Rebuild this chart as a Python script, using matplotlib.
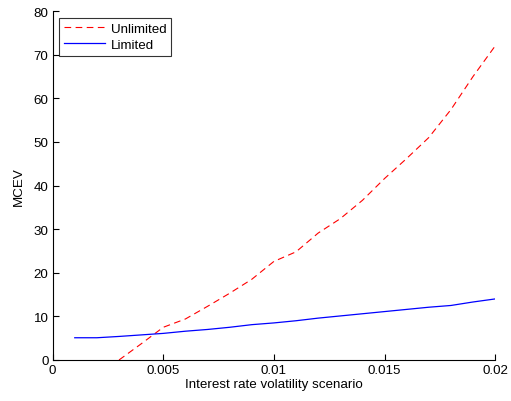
import numpy as np
import matplotlib.pyplot as plt

plt.rcParams['font.family'] = ['Liberation Sans', 'DejaVu Sans']

# 변동성 시나리오 (x)
x_lim = [0.001, 0.002, 0.003, 0.004, 0.005, 0.006, 0.007, 0.008, 0.009, 0.010,
         0.011, 0.012, 0.013, 0.014, 0.015, 0.016, 0.017, 0.018, 0.019, 0.020]
limited = [5.1, 5.1, 5.4, 5.75, 6.1, 6.6, 7.0, 7.5, 8.1, 8.5,
           9.0, 9.6, 10.1, 10.6, 11.1, 11.6, 12.1, 12.5, 13.3, 14.0]

x_unl = [0.003, 0.004, 0.005, 0.006, 0.007, 0.008, 0.009, 0.010, 0.011,
         0.012, 0.013, 0.014, 0.015, 0.016, 0.017, 0.018, 0.019, 0.020]
unlimited = [0.0, 3.7, 7.5, 9.4, 12.3, 15.3, 18.5, 22.6, 24.8,
             29.1, 32.4, 36.6, 41.6, 46.2, 51.0, 57.4, 65.0, 72.0]

fs = 9.6

fig = plt.figure(figsize=(5.11, 4.02), dpi=100)
ax = fig.add_axes([0.103, 0.102, 0.866, 0.868])

ax.plot(x_unl, unlimited, color='red', linestyle=(0, (6, 4)), linewidth=0.8, label='Unlimited')
ax.plot(x_lim, limited, color='blue', linewidth=0.9, label='Limited')

ax.set_xlim(0, 0.02)
ax.set_ylim(0, 80)
ax.set_xticks([0, 0.005, 0.01, 0.015, 0.02])
ax.set_xticklabels(['0', '0.005', '0.01', '0.015', '0.02'])
ax.set_yticks(np.arange(0, 81, 10))

ax.spines['top'].set_visible(False)
ax.spines['right'].set_visible(False)
ax.tick_params(direction='in', length=4, labelsize=fs, pad=3)

ax.set_xlabel('Interest rate volatility scenario', fontsize=fs, labelpad=1)
ax.set_ylabel('MCEV', fontsize=fs, labelpad=6)

leg = ax.legend(loc='upper left', fontsize=fs, fancybox=False, edgecolor='black',
                handlelength=3.1, borderaxespad=0.5, borderpad=0.35, labelspacing=0.3,
                handletextpad=0.4)
leg.get_frame().set_linewidth(0.8)

plt.savefig('out.png', dpi=100)
